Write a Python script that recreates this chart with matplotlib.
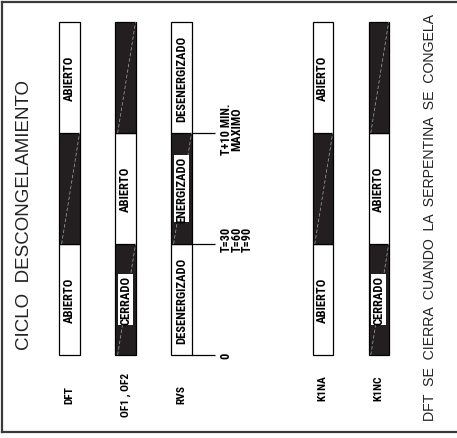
#!/usr/bin/env python3
"""Defrost cycle timing diagram (rotated, CAD style)."""
import matplotlib
matplotlib.use("Agg")
import matplotlib.pyplot as plt
from matplotlib import font_manager as fm
from matplotlib.lines import Line2D

# data
SIGNALS = ["DFT", "OF1 , OF2", "RVS", "K1NA", "K1NC"]
# state per phase, bottom (t=0) to top; 1 = black band
LEVELS = [[0, 1, 0], [1, 0, 1], [0, 1, 0], [0, 1, 0], [1, 0, 1]]
STATE_LABELS = [["ABIERTO", "", "ABIERTO"],
                ["CERRADO", "ABIERTO", ""],
                ["DESENERGIZADO", "ENERGIZADO", "DESENERGIZADO"],
                ["ABIERTO", "", "ABIERTO"],
                ["CERRADO", "ABIERTO", ""]]
BOUNDARIES = [0, 1, 2]
TICK_LABELS = ["0", "T=30\nT=60\nT=90", "T+10 MIN.\nMAXIMO"]
TITLE = "CICLO  DESCONGELAMIENTO"
NOTE = "DFT  SE  CIERRA  CUANDO  LA  SERPENTINA  SE  CONGELA"

# layout
SLOTS = [0, 1, 2, 4.52, 5.52]
LABEL_Y = [-0.35, -0.35, -0.35, -0.29, -0.29]
BAR_W = 0.36
INK, DARK, DASH, FRAME = "#000000", "#231f20", "#a8a8a8", "#3a3a3a"


def _narrow():
    have = {f.name for f in fm.fontManager.ttflist}
    for f in ("Liberation Sans Narrow", "Arial Narrow", "Roboto Condensed",
              "DejaVu Sans Condensed"):
        if f in have:
            return [f, "DejaVu Sans"], 1.0
    return ["Liberation Sans", "DejaVu Sans"], 0.85


NARROW, SCALE = _narrow()
SANS = ["Liberation Sans", "DejaVu Sans"]

fig = plt.figure(figsize=(4.57, 4.39), dpi=100)
ax = fig.add_axes([0, 0, 1, 1])
ax.axis("off")
ax.set_xlim(-69.5 / 56, (457 - 69.5) / 56)
ax.set_ylim((356 - 439) / 111, 356 / 111)

for i, x in enumerate(SLOTS):
    for k, (lvl, lab) in enumerate(zip(LEVELS[i], STATE_LABELS[i])):
        ax.bar(x, 1, bottom=k, width=BAR_W, color=DARK if lvl else "white",
               edgecolor=INK, linewidth=0.9, zorder=2)
        if lvl:
            ax.plot([x - BAR_W / 2 + 0.04, x + BAR_W / 2], [k, k + 1], color=DASH,
                    lw=0.5, ls=(0, (5, 3)), zorder=3)
        if lab:
            box = dict(facecolor="white", edgecolor="none", pad=0.5) if lvl else None
            ax.text(x, k + 0.5, lab, rotation=90, ha="center", va="center",
                    fontsize=9 * SCALE, fontweight="bold", family=NARROW, color=INK,
                    bbox=box, zorder=4)
    ax.text(x, LABEL_Y[i], SIGNALS[i], rotation=90, ha="center", va="center",
            fontsize=8.2 * SCALE, fontweight="bold", family=NARROW, color=INK)

# time ticks off the RVS bar
rvs = SLOTS[2]
ax.hlines(BOUNDARIES, rvs + BAR_W / 2, rvs + BAR_W / 2 + 0.42, color=INK, lw=0.9, zorder=1)
for b, lab in zip(BOUNDARIES, TICK_LABELS):
    ax.text(rvs + BAR_W / 2 + 0.5, b + (0.05 if b == 1 else 0.04 if b == 2 else 0), lab,
            rotation=90, ha="left", va="center", fontsize=8.8 * SCALE, fontweight="bold",
            family=NARROW, color=INK, linespacing=0.78, multialignment="center")

fig.text(25 / 457, 1 - 215 / 439, TITLE, rotation=90, ha="center", va="center",
         fontsize=13.5, family=SANS, color="#222222")
fig.text(430 / 457, 1 - 218 / 439, NOTE, rotation=90, ha="center", va="center",
         fontsize=10.2, family=SANS, color="#222222")

# drawing frame (open on the right)
for xs, ys in (([1.5 / 457, 1], [1 - 3 / 439] * 2),
               ([1.5 / 457, 1], [1 - 433 / 439] * 2),
               ([1.5 / 457] * 2, [1 - 3 / 439, 1 - 433 / 439])):
    fig.add_artist(Line2D(xs, ys, color=FRAME, lw=1.6, transform=fig.transFigure))

fig.savefig("out.png", dpi=100)
